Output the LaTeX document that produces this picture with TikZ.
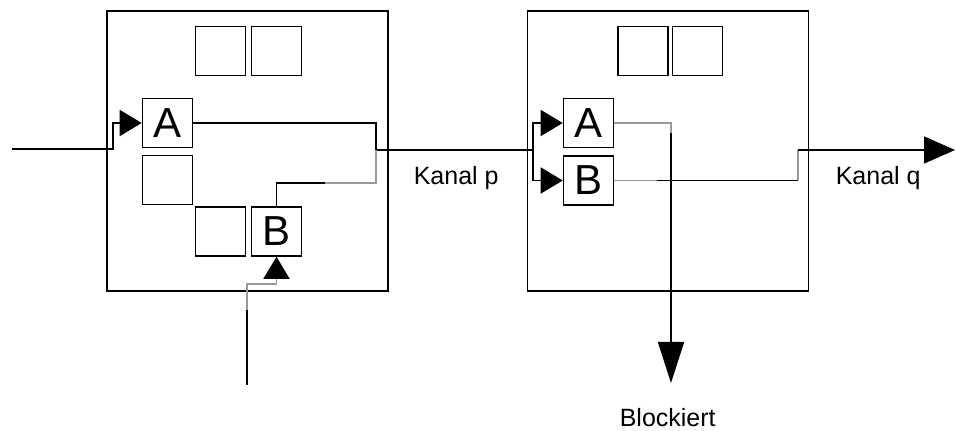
\documentclass[tikz,border=0pt]{standalone}
\usepackage{fontspec}
\setmainfont{Liberation Sans}
\usetikzlibrary{arrows.meta}

\begin{document}
\begin{tikzpicture}[x=1pt,y=1pt,line width=1.6pt,line cap=butt,line join=miter,
    prozess/.style={draw,line width=1.8pt,minimum width=281pt,minimum height=280pt,inner sep=0pt},
    fach/.style={draw,minimum width=50pt,minimum height=49pt,inner sep=0pt,
                 font=\fontsize{42}{42}\selectfont},
    grau/.style={draw=black!40},
    spitze/.style={-{Triangle[length=22pt,width=26pt,color=black]}},
    etikett/.style={anchor=base west,inner sep=0pt,font=\fontsize{25}{30}\selectfont}]
  \path[use as bounding box] (0,0) rectangle (956,431);   % canvas 956x431 px, y upwards
  % ---- process boxes ----
  \node[prozess] (P1) at (247.5,280) {};   % px x[107,388] y[11,291]
  \node[prozess] (P2) at (668,280) {};     % px x[528,808] y[11,291]
  % ---- slots, left process ----
  \node[fach] (L1) at (220.5,380) {};
  \node[fach] (L2) at (276.5,380) {};
  \node[fach] (A1) at (167.5,308) {A};     % px y 123
  \node[fach] (L3) at (167.5,251) {};
  \node[fach] (L4) at (220.5,199.5) {};
  \node[fach] (B1) at (276.5,199.5) {B};   % px y 231
  % ---- slots, right process ----
  \node[fach] (R1) at (643,380) {};
  \node[fach] (R2) at (697.5,380) {};
  \node[fach] (A2) at (588.5,308) {A};
  \node[fach] (B2) at (588.5,250.5) {B};
  % ---- bend points ----
  \coordinate (ein)    at ( 12,282);       % left input
  \coordinate (einK)   at (113,282);
  \coordinate (sammel) at (376,281);       % A1 and B1 meet here
  \coordinate (b1grau) at (325,248);
  \coordinate (verteil) at (533,281);      % channel p splits to A2, B2
  \coordinate (quelle) at (247,46);        % input below B1
  \coordinate (q1)     at (247,121);
  \coordinate (qk)     at (247,147);
  \coordinate (a2grau) at (671,298);
  \coordinate (block)  at (671,48);
  \coordinate (b2grau) at (657,250.5);
  \coordinate (b2knick) at (798,250.5);
  \coordinate (b2oben) at (798,281);
  \coordinate (aus)    at (955,281);       % channel q
  % ---- connectors ----
  \draw[spitze] (ein) -- (einK) |- (A1.west);
  \draw (A1.east) -| (sammel) -- (verteil);
  \draw (B1.north) |- (b1grau);
  \draw[grau] (b1grau) -| (sammel);
  \draw (quelle) -- (q1);
  \draw[grau,spitze] (q1) -- (qk) -| (B1.south);
  \draw[spitze] (verteil) |- (A2.west);
  \draw[spitze] (verteil) |- (B2.west);
  \draw[grau] (A2.east) -| (a2grau);
  \draw[-{Triangle[length=41pt,width=26pt]}] (a2grau) -- (block);
  \draw[grau] (B2.east) -- (b2grau);
  \draw (b2grau) -- (b2knick);
  \draw[grau] (b2knick) -- (b2oben);
  \draw[-{Triangle[length=31pt,width=27pt]}] (b2oben) -- (aus);
  % ---- labels ----
  \node[etikett] (kp) at (413,246) {Kanal p};
  \node[etikett] (kq) at (835,246) {Kanal q};
  \node[etikett] (bl) at (619,4) {Blockiert};
\end{tikzpicture}
\end{document}
